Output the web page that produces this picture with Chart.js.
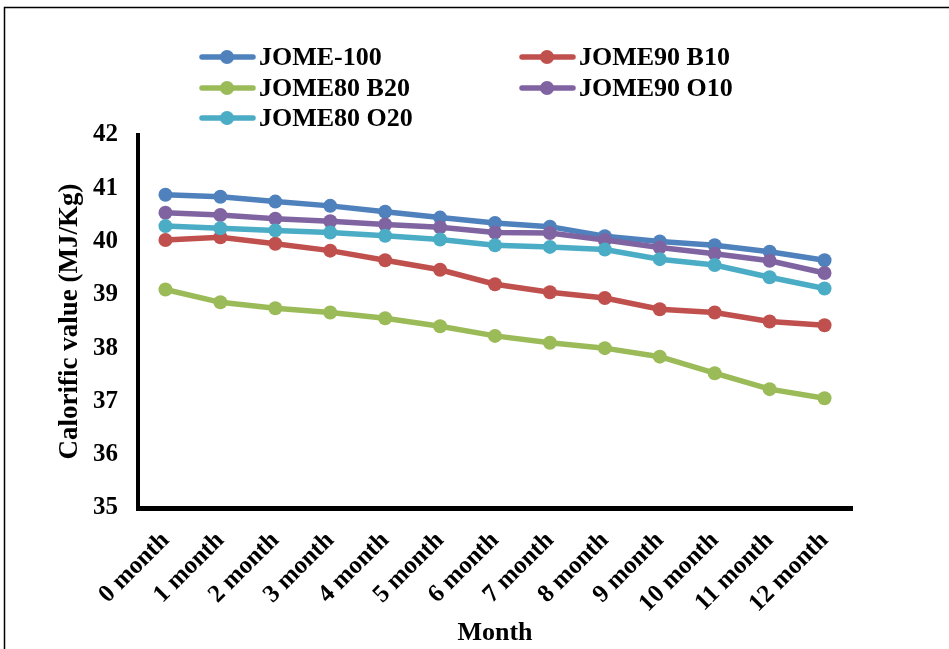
<!DOCTYPE html>
<html>
<head>
<meta charset="utf-8">
<script src="https://cdn.jsdelivr.net/npm/chart.js@4"></script>
<style>
  html, body { margin: 0; padding: 0; background: #ffffff; }
  #wrap { width: 949px; height: 649px; position: relative; }
</style>
</head>
<body>
<div id="wrap"><canvas id="c" width="949" height="649"></canvas></div>
<script>
// Storage months
const months = ['0 month', '1 month', '2 month', '3 month', '4 month', '5 month', '6 month',
  '7 month', '8 month', '9 month', '10 month', '11 month', '12 month'];

// Calorific value (MJ/Kg) per fuel blend
const jome100   = [40.88, 40.84, 40.75, 40.67, 40.56, 40.45, 40.35, 40.28, 40.10, 40.00, 39.93, 39.81, 39.65];
const jome90B10 = [40.03, 40.08, 39.96, 39.83, 39.65, 39.47, 39.20, 39.05, 38.94, 38.73, 38.67, 38.50, 38.43];
const jome80B20 = [39.10, 38.86, 38.75, 38.67, 38.56, 38.41, 38.23, 38.10, 38.00, 37.84, 37.53, 37.23, 37.06];
const jome90O10 = [40.54, 40.50, 40.43, 40.38, 40.32, 40.27, 40.17, 40.16, 40.03, 39.89, 39.77, 39.64, 39.41];
const jome80O20 = [40.29, 40.25, 40.21, 40.17, 40.11, 40.04, 39.93, 39.90, 39.85, 39.67, 39.56, 39.33, 39.12];

const yTicks = [35, 36, 37, 38, 39, 40, 41, 42];

const FONT = '"Liberation Serif", "Times New Roman", serif';

function series(label, data, color, order) {
  return {
    label, data,
    borderColor: color,
    backgroundColor: color,
    pointBackgroundColor: color,
    pointBorderColor: color,
    borderWidth: 5.5,
    pointRadius: 7,
    pointBorderWidth: 0,
    tension: 0,
    order
  };
}

// Legend laid out in two columns above the plot
const gridLegend = {
  id: 'gridLegend',
  afterDraw(chart) {
    const ctx = chart.ctx;
    const cols = [200, 520];
    const rows = [57, 88, 118];
    ctx.save();
    ctx.font = 'bold 26px ' + FONT;
    ctx.textBaseline = 'middle';
    ctx.textAlign = 'left';
    chart.data.datasets.forEach((ds, i) => {
      const x = cols[i % 2];
      const y = rows[Math.floor(i / 2)];
      ctx.strokeStyle = ds.borderColor;
      ctx.lineWidth = 5.5;
      ctx.lineCap = 'round';
      ctx.beginPath();
      ctx.moveTo(x + 2, y);
      ctx.lineTo(x + 53, y);
      ctx.stroke();
      ctx.fillStyle = ds.borderColor;
      ctx.beginPath();
      ctx.arc(x + 27, y, 7, 0, Math.PI * 2);
      ctx.fill();
      ctx.fillStyle = '#000';
      ctx.fillText(ds.label, x + 59, y + 1);
    });
    ctx.restore();
  }
};

// White background and thin outer frame
const frame = {
  id: 'frame',
  beforeDraw(chart) {
    const ctx = chart.ctx;
    ctx.save();
    ctx.fillStyle = '#fff';
    ctx.fillRect(0, 0, chart.width, chart.height);
    ctx.strokeStyle = '#000';
    ctx.lineWidth = 1.5;
    ctx.strokeRect(4.5, 7.5, 1200, 1200);
    ctx.restore();
  }
};

new Chart(document.getElementById('c'), {
  type: 'line',
  data: {
    labels: months,
    datasets: [
      series('JOME-100', jome100, '#4F81BD', 4),
      series('JOME90 B10', jome90B10, '#C0504D', 3),
      series('JOME80 B20', jome80B20, '#9BBB59', 2),
      series('JOME90 O10', jome90O10, '#8064A2', 1),
      series('JOME80 O20', jome80O20, '#4BACC6', 0)
    ]
  },
  options: {
    responsive: false,
    animation: false,
    devicePixelRatio: 1,
    layout: { padding: { left: 50, top: 135, right: 97, bottom: 0 } },
    plugins: { legend: { display: false }, tooltip: { enabled: false } },
    scales: {
      x: {
        offset: true,
        afterFit(scale) { scale.height = 141; },
        grid: { display: false, drawTicks: false },
        border: { display: true, color: '#000', width: 5 },
        ticks: {
          color: '#000',
          font: { family: FONT, size: 25, weight: 'bold' },
          minRotation: 45,
          maxRotation: 45,
          padding: 18,
          autoSkip: false
        },
        title: {
          display: true,
          text: 'Month',
          color: '#000',
          font: { family: FONT, size: 26, weight: 'bold' },
          padding: { top: 4, bottom: 0 }
        }
      },
      y: {
        min: 35,
        max: 42,
        afterFit(scale) { scale.width = 88; },
        afterBuildTicks(scale) { scale.ticks = yTicks.map(v => ({ value: v })); },
        grid: { display: false, drawTicks: false },
        border: { display: true, color: '#000', width: 4 },
        ticks: {
          color: '#000',
          font: { family: FONT, size: 25, weight: 'bold' },
          padding: 20
        },
        title: {
          display: true,
          text: 'Calorific value (MJ/Kg)',
          color: '#000',
          font: { family: FONT, size: 27, weight: 'bold' },
          padding: { top: 4, bottom: 4 }
        }
      }
    }
  },
  plugins: [frame, gridLegend]
});
</script>
</body>
</html>
